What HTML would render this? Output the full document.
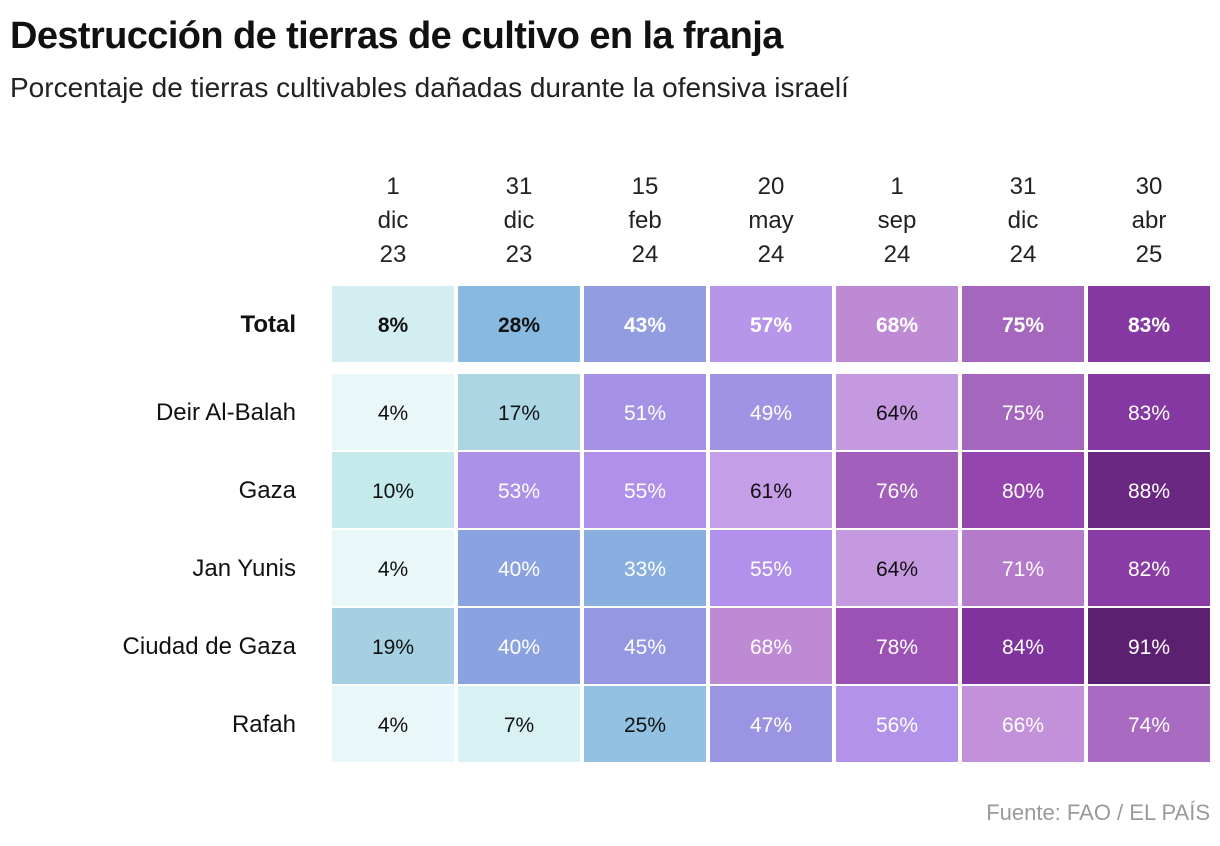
<!DOCTYPE html>
<html><head><meta charset="utf-8">
<style>
body{margin:0;width:1220px;height:846px;background:#fff;font-family:"Liberation Sans",sans-serif;overflow:hidden;position:relative}
#title{position:absolute;left:10px;top:15px;font-size:38px;font-weight:bold;color:#111;letter-spacing:-0.6px}
#subtitle{position:absolute;left:10px;top:72px;font-size:28px;color:#222}
#source{position:absolute;right:10px;top:800px;font-size:22px;color:#9a9a9a}
svg{position:absolute;left:0;top:0}
</style></head><body>
<div id="title">Destrucción de tierras de cultivo en la franja</div>
<div id="subtitle">Porcentaje de tierras cultivables dañadas durante la ofensiva israelí</div>
<div id="source">Fuente: FAO / EL PAÍS</div>
<svg id="chart" width="1220" height="846"></svg>
<script>
const dates=[["1","dic","23"],["31","dic","23"],["15","feb","24"],["20","may","24"],["1","sep","24"],["31","dic","24"],["30","abr","25"]];
const regions=["Total","Deir Al-Balah","Gaza","Jan Yunis","Ciudad de Gaza","Rafah"];
const total=[8,28,43,57,68,75,83];
const deirAlBalah=[4,17,51,49,64,75,83];
const gaza=[10,53,55,61,76,80,88];
const janYunis=[4,40,33,55,64,71,82];
const ciudadDeGaza=[19,40,45,68,78,84,91];
const rafah=[4,7,25,47,56,66,74];
const values=[total,deirAlBalah,gaza,janYunis,ciudadDeGaza,rafah];

const stops=[[0,[240,250,251]],[4,[234,247,248]],[10,[198,234,236]],[19,[165,208,226]],[28,[136,185,224]],[40,[138,162,224]],[47,[154,148,226]],[55,[176,144,234]],[62,[200,160,230]],[68,[191,138,212]],[75,[165,102,190]],[80,[148,69,174]],[84,[128,51,156]],[91,[91,32,112]],[100,[70,20,90]]];
function color(v){
  for(let i=1;i<stops.length;i++){if(v<=stops[i][0]){const a=stops[i-1],b=stops[i],t=(v-a[0])/(b[0]-a[0]||1);return a[1].map((c,k)=>Math.round(c+(b[1][k]-c)*t));}}
  return stops[stops.length-1][1];
}
const svg=document.getElementById('chart'),NS='http://www.w3.org/2000/svg';
const x0=332,pitchX=126,cw=122;
function colX(i){return x0+i*pitchX;}
function rowY(j){return j===0?286:374+(j-1)*78;}
function mk(t,a){const e=document.createElementNS(NS,t);for(const k in a)e.setAttribute(k,a[k]);svg.appendChild(e);return e;}
dates.forEach((d,i)=>{d.forEach((s,l)=>{const t=mk('text',{x:colX(i)+cw/2,y:194+l*34,'text-anchor':'middle','font-size':24,fill:'#222'});t.textContent=s;

});});
regions.forEach((r,j)=>{
  const h=76;const y=rowY(j);
  const lt=mk('text',{x:296,y:y+h/2+8,'text-anchor':'end','font-size':24,fill:'#111','font-weight':j===0?'bold':'normal'});lt.textContent=r;
  
  
  values[j].forEach((v,i)=>{
    const c=color(v);
    const rc=mk('rect',{x:colX(i),y:y,width:cw,height:h,fill:`rgb(${c[0]},${c[1]},${c[2]})`});
    
    
    const lum=0.299*c[0]+0.587*c[1]+0.114*c[2];
    const tt=mk('text',{x:colX(i)+cw/2,y:y+h/2+8,'text-anchor':'middle','font-size':21,fill:lum<170.5?'#fff':'#111','font-weight':j===0?'bold':'normal'});
    tt.textContent=v+'%';
    
    
  });
});
</script>
</body></html>
